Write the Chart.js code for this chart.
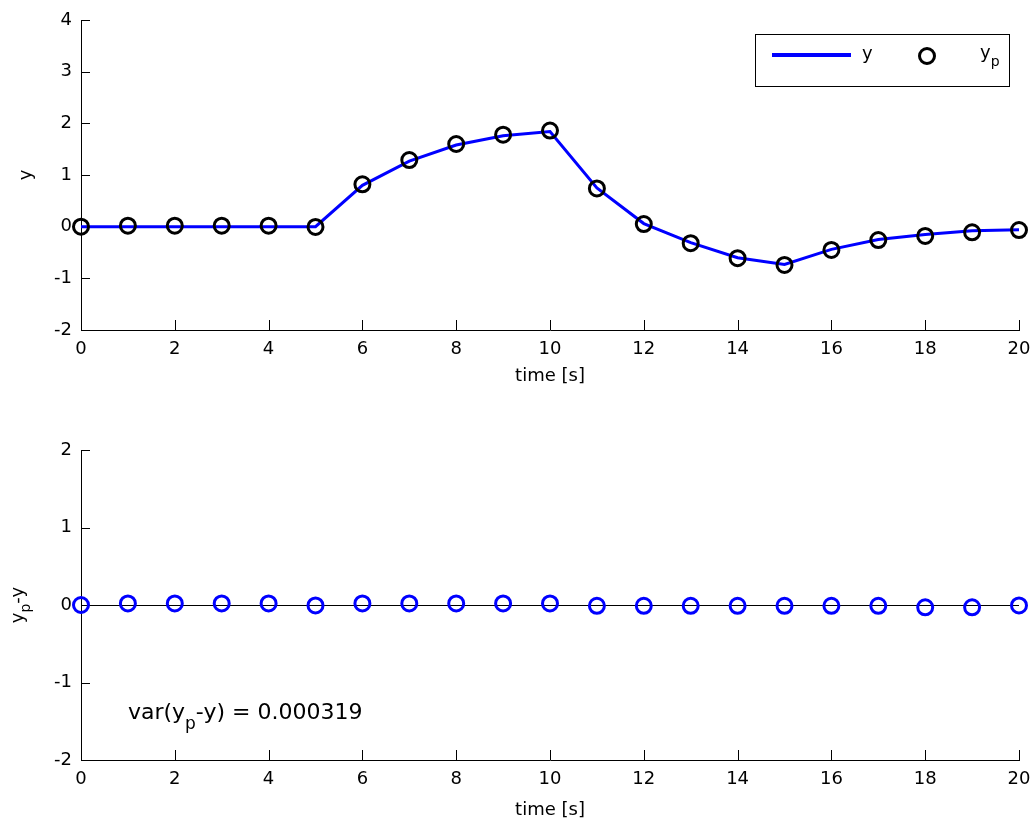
<!DOCTYPE html>
<html lang="en">
<head>
  <meta charset="UTF-8" />
  <title>y and y_p</title>
  <script src="https://cdn.jsdelivr.net/npm/chart.js"></script>
  <style>
    html, body { margin: 0; padding: 0; background: #fff; }
    #wrap { position: relative; width: 1035px; height: 823px; }
    canvas { position: absolute; left: 0; }
    #topChart { top: 0; }
    #bottomChart { top: 400px; }
  </style>
</head>
<body>
  <div id="wrap">
    <canvas id="topChart" width="1035" height="400"></canvas>
    <canvas id="bottomChart" width="1035" height="423"></canvas>
  </div>

  <script>
    // data
    const time = [0, 1, 2, 3, 4, 5, 6, 7, 8, 9, 10, 11, 12, 13, 14, 15, 16, 17, 18, 19, 20];
    const yValues = [0, 0, 0, 0, 0, 0, 0.80, 1.27, 1.58, 1.76, 1.84, 0.75, 0.06, -0.31, -0.60, -0.73, -0.44, -0.25, -0.15, -0.08, -0.06];
    const ypValues = [0, 0.02, 0.02, 0.02, 0.02, -0.005, 0.82, 1.29, 1.60, 1.78, 1.86, 0.74, 0.05, -0.32, -0.61, -0.74, -0.45, -0.26, -0.18, -0.11, -0.065];
    const residual = [0, 0.02, 0.02, 0.02, 0.02, -0.005, 0.02, 0.02, 0.02, 0.02, 0.02, -0.01, -0.01, -0.01, -0.01, -0.01, -0.01, -0.01, -0.03, -0.03, -0.005];
    const xTicks = [0, 2, 4, 6, 8, 10, 12, 14, 16, 18, 20];
    const topYTicks = [-2, -1, 0, 1, 2, 3, 4];
    const bottomYTicks = [-2, -1, 0, 1, 2];
    const zeroLevel = 0;
    const varLabel = '0.000319';
    const varAt = { x: 1, y: -1.47 };

    const FONT = 'DejaVu Sans';
    Chart.defaults.font.family = FONT;
    Chart.defaults.font.size = 18;
    Chart.defaults.color = '#000';

    const toPoints = vals => time.map((t, i) => ({ x: t, y: vals[i] }));

    // draws text pieces one after another, for subscripts
    function drawPieces(ctx, pieces, x, y) {
      pieces.forEach(p => {
        ctx.font = `${p.size}px ${FONT}`;
        ctx.fillText(p.text, x, y + (p.dy || 0));
        x += ctx.measureText(p.text).width;
      });
      return x;
    }
    function piecesWidth(ctx, pieces) {
      let w = 0;
      pieces.forEach(p => { ctx.font = `${p.size}px ${FONT}`; w += ctx.measureText(p.text).width; });
      return w;
    }

    // matlab style ticks pointing into the plot
    const inwardTicks = {
      id: 'inwardTicks',
      beforeDatasetsDraw(chart) {
        const { ctx, chartArea: a, scales: { x, y } } = chart;
        ctx.save();
        ctx.strokeStyle = '#000';
        ctx.lineWidth = 1;
        ctx.beginPath();
        x.ticks.forEach(t => {
          const px = Math.round(x.getPixelForValue(t.value)) + 0.5;
          ctx.moveTo(px, a.bottom);
          ctx.lineTo(px, a.bottom - 10);
        });
        y.ticks.forEach(t => {
          const py = Math.round(y.getPixelForValue(t.value)) + 0.5;
          ctx.moveTo(a.left, py);
          ctx.lineTo(a.left + 9, py);
        });
        ctx.stroke();
        ctx.restore();
      }
    };

    const topLegend = {
      id: 'topLegend',
      afterDraw(chart) {
        const { ctx, chartArea: a } = chart;
        const [ypSet, ySet] = chart.data.datasets;
        const l = a.right - 264, t = a.top + 14;
        ctx.save();
        ctx.fillStyle = '#fff';
        ctx.fillRect(l, t, 254, 52);
        ctx.strokeStyle = '#000';
        ctx.lineWidth = 1;
        ctx.strokeRect(l + 0.5, t + 0.5, 254, 52);

        ctx.strokeStyle = ySet.borderColor;
        ctx.lineWidth = 4;
        ctx.beginPath();
        ctx.moveTo(l + 17, t + 21);
        ctx.lineTo(l + 96, t + 21);
        ctx.stroke();

        ctx.strokeStyle = ypSet.pointBorderColor;
        ctx.lineWidth = ypSet.pointBorderWidth;
        ctx.beginPath();
        ctx.arc(l + 172, t + 22, ypSet.pointRadius, 0, Math.PI * 2);
        ctx.stroke();

        ctx.fillStyle = '#000';
        ctx.textBaseline = 'alphabetic';
        drawPieces(ctx, [{ text: 'y', size: 18 }], l + 107, t + 25);
        drawPieces(ctx, [{ text: 'y', size: 18 }, { text: 'p', size: 14, dy: 8 }], l + 225, t + 24);
        ctx.restore();
      }
    };

    const bottomText = {
      id: 'bottomText',
      beforeDatasetsDraw(chart) {
        // zero reference line
        const { ctx, scales: { x, y } } = chart;
        const py = Math.round(y.getPixelForValue(zeroLevel)) + 0.5;
        ctx.save();
        ctx.strokeStyle = '#000';
        ctx.lineWidth = 1;
        ctx.beginPath();
        ctx.moveTo(x.getPixelForValue(time[0]), py);
        ctx.lineTo(x.getPixelForValue(time[time.length - 1]), py);
        ctx.stroke();
        ctx.restore();
      },
      afterDraw(chart) {
        const { ctx, chartArea: a, scales: { x, y } } = chart;
        ctx.save();
        ctx.fillStyle = '#000';
        ctx.textBaseline = 'alphabetic';
        drawPieces(ctx, [
          { text: 'var(y', size: 22 },
          { text: 'p', size: 17, dy: 10 },
          { text: '-y) = ' + varLabel, size: 22 }
        ], x.getPixelForValue(varAt.x), y.getPixelForValue(varAt.y));

        // y axis title with subscript
        const title = [{ text: 'y', size: 18 }, { text: 'p', size: 14, dy: 7 }, { text: '-y', size: 18 }];
        const w = piecesWidth(ctx, title);
        ctx.translate(23, (a.top + a.bottom) / 2);
        ctx.rotate(-Math.PI / 2);
        drawPieces(ctx, title, -w / 2, 0);
        ctx.restore();
      }
    };

    function xScale(titlePad) {
      return {
        type: 'linear',
        min: 0,
        max: 20,
        afterBuildTicks: s => { s.ticks = xTicks.map(v => ({ value: v })); },
        afterFit: s => { s.height = titlePad.h; s.paddingLeft = 0; s.paddingRight = 0; },
        grid: { display: false, drawTicks: false },
        border: { display: true, color: '#000', width: 1 },
        ticks: { padding: 9, font: { size: 18 } },
        title: { display: true, text: 'time [s]', font: { size: 18 }, padding: { top: titlePad.p, bottom: titlePad.p } }
      };
    }

    function yScale(min, max, tickList, title) {
      return {
        type: 'linear',
        min: min,
        max: max,
        afterBuildTicks: s => { s.ticks = tickList.map(v => ({ value: v })); },
        afterFit: s => { s.width = 81; s.paddingTop = 0; s.paddingBottom = 0; },
        grid: { display: false, drawTicks: false },
        border: { display: true, color: '#000', width: 1 },
        ticks: { padding: 9, font: { size: 18 } },
        title: { display: !!title, text: title || '', font: { size: 18 }, padding: { top: 16, bottom: 16 } }
      };
    }

    new Chart(document.getElementById('topChart'), {
      type: 'line',
      data: {
        datasets: [
          {
            label: 'y_p',
            data: toPoints(ypValues),
            showLine: false,
            pointStyle: 'circle',
            pointRadius: 7.5,
            pointBorderWidth: 3,
            pointBorderColor: '#000',
            pointBackgroundColor: 'rgba(0,0,0,0)',
            clip: false,
            order: 0
          },
          {
            label: 'y',
            data: toPoints(yValues),
            borderColor: '#0000ff',
            borderWidth: 3,
            pointRadius: 0,
            tension: 0,
            clip: false,
            order: 1
          }
        ]
      },
      options: {
        responsive: false,
        animation: false,
        layout: { padding: { top: 20, right: 16, left: 0, bottom: 0 } },
        plugins: { legend: { display: false }, tooltip: { enabled: false } },
        scales: {
          x: xScale({ h: 70, p: 13 }),
          y: yScale(-2, 4, topYTicks, 'y')
        }
      },
      plugins: [inwardTicks, topLegend]
    });

    new Chart(document.getElementById('bottomChart'), {
      type: 'line',
      data: {
        datasets: [
          {
            label: 'y_p-y',
            data: toPoints(residual),
            showLine: false,
            pointStyle: 'circle',
            pointRadius: 7.5,
            pointBorderWidth: 3,
            pointBorderColor: '#0000ff',
            pointBackgroundColor: 'rgba(0,0,0,0)',
            clip: false
          }
        ]
      },
      options: {
        responsive: false,
        animation: false,
        layout: { padding: { top: 50, right: 16, left: 0, bottom: 0 } },
        plugins: { legend: { display: false }, tooltip: { enabled: false } },
        scales: {
          x: xScale({ h: 63, p: 2 }),
          y: yScale(-2, 2, bottomYTicks, null)
        }
      },
      plugins: [inwardTicks, bottomText]
    });
  </script>
</body>
</html>
